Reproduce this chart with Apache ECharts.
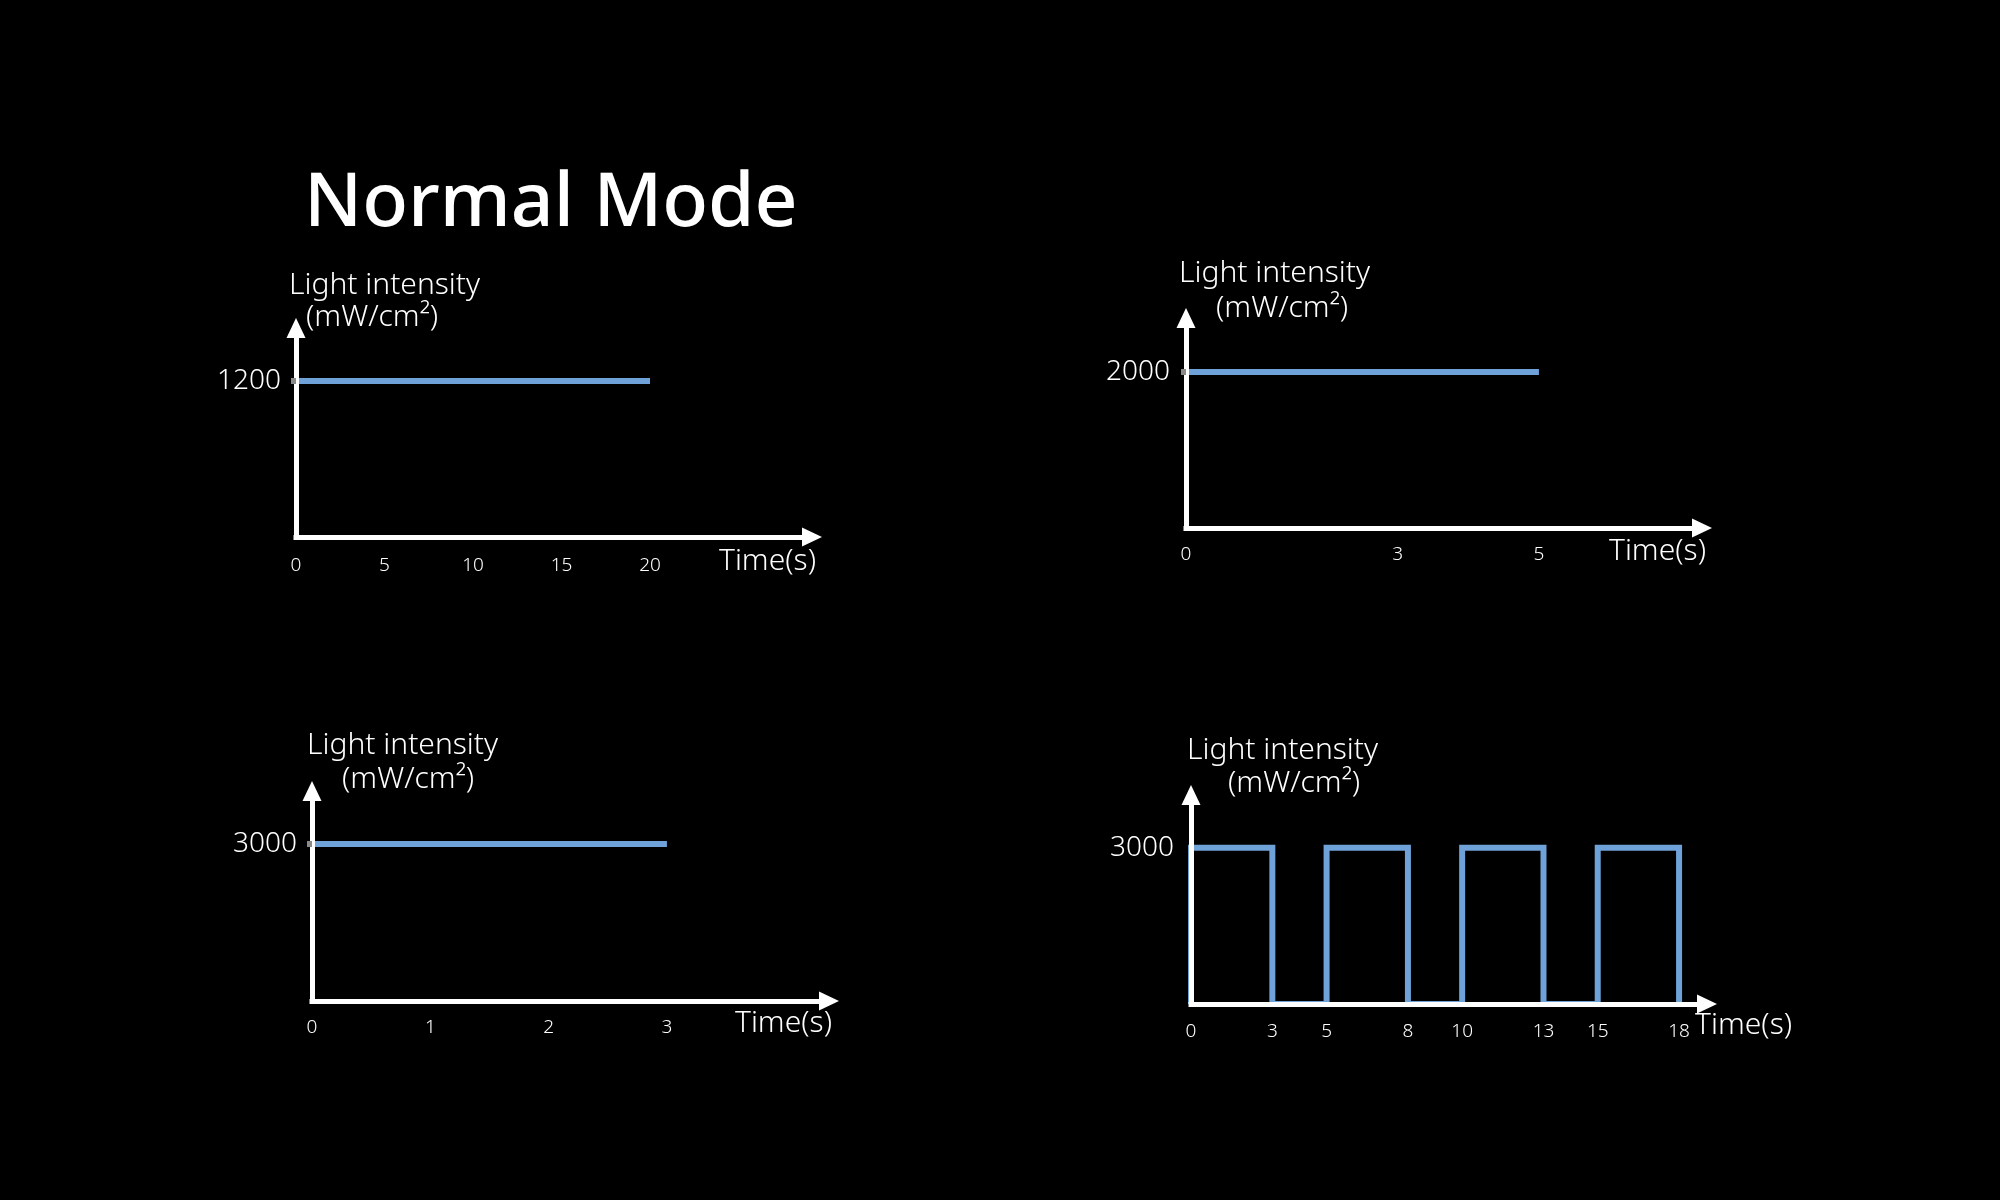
<!DOCTYPE html>
<html>
<head>
<meta charset="utf-8">
<title>Normal Mode</title>
<style>
  html, body { margin: 0; padding: 0; background: #000; }
  #chart { width: 2000px; height: 1200px; }
</style>
<script src="https://cdn.jsdelivr.net/npm/echarts@6.0.0/dist/echarts.min.js"></script>
</head>
<body>
<div id="chart"></div>
<script>
(function() {
  var titleText = 'Normal Mode';
  var yNameTop = 'Light intensity';
  var yNameBottom = '(mW/cm²)';
  var xName = 'Time(s)';

  // top left: constant 1200 for 20 s
  var time1 = [0, 20];
  var level1 = [1200, 1200];
  var xTicks1 = [0, 5, 10, 15, 20];
  var yTicks1 = [1200];

  // top right: constant 2000 for 5 s
  var time2 = [0, 5];
  var level2 = [2000, 2000];
  var xTicks2 = [0, 3, 5];
  var yTicks2 = [2000];

  // bottom left: constant 3000 for 3 s
  var time3 = [0, 3];
  var level3 = [3000, 3000];
  var xTicks3 = [0, 1, 2, 3];
  var yTicks3 = [3000];

  // bottom right: 3 s on / 2 s off pulses at 3000
  var time4 = [0, 0, 3, 3, 5, 5, 8, 8, 10, 10, 13, 13, 15, 15, 18, 18];
  var level4 = [0, 3000, 3000, 0, 0, 3000, 3000, 0, 0, 3000, 3000, 0, 0, 3000, 3000, 0];
  var xTicks4 = [0, 3, 5, 8, 10, 13, 15, 18];
  var yTicks4 = [3000];

  var white = '#ffffff';
  var blue = '#6fa2d8';
  var font = "'Noto Sans', 'DejaVu Sans', sans-serif";

  function pairs(xs, ys) {
    return xs.map(function(x, i) { return [x, ys[i]]; });
  }

  var panels = [
    {
      data: pairs(time1, level1), xTicks: xTicks1, yTicks: yTicks1,
      grid: { left: 296, top: 328, width: 516, height: 209 },
      xMax: 29.15, yMax: 1608, xMargin: 19, yMargin: 15, tick: true,
      nameGap: 4, nameAlign: 'right', namePad: 7,
      nameTop: [289, 268], nameBottom: [306, 300]
    },
    {
      data: pairs(time2, level2), xTicks: xTicks2, yTicks: yTicks2,
      grid: { left: 1186, top: 318, width: 516, height: 210 },
      xMax: 7.31, yMax: 2692, xMargin: 17, yMargin: 16, tick: true,
      nameGap: 4, nameAlign: 'right', namePad: 6,
      nameTop: [1179, 256], nameBottom: [1216, 291]
    },
    {
      data: pairs(time3, level3), xTicks: xTicks3, yTicks: yTicks3,
      grid: { left: 312, top: 791, width: 517, height: 210 },
      xMax: 4.37, yMax: 4013, xMargin: 17, yMargin: 15, tick: true,
      nameGap: 3, nameAlign: 'right', namePad: 5,
      nameTop: [307, 728], nameBottom: [342, 762]
    },
    {
      data: pairs(time4, level4), xTicks: xTicks4, yTicks: yTicks4,
      grid: { left: 1191, top: 795, width: 516, height: 209 },
      xMax: 19.03, yMax: 4011, xMargin: 18, yMargin: 17, tick: false,
      nameGap: -12, nameAlign: 'left', namePad: 4,
      nameTop: [1187, 733], nameBottom: [1228, 766]
    }
  ];

  var axisLine = {
    show: true,
    symbol: ['none', 'triangle'],
    symbolSize: [19, 20],
    lineStyle: { color: white, width: 5, cap: 'square' }
  };
  var nameStyle = { color: white, fontSize: 30, fontWeight: 300, fontFamily: font, lineHeight: 34 };

  var titles = [{
    text: titleText, left: 304, top: 167, padding: 0,
    textStyle: { color: white, fontSize: 75, fontWeight: 500, fontFamily: font, lineHeight: 75 }
  }];
  var grids = [], xAxes = [], yAxes = [], series = [];

  panels.forEach(function(p, i) {
    grids.push(p.grid);
    titles.push({ text: yNameTop, left: p.nameTop[0], top: p.nameTop[1], padding: 0, textStyle: nameStyle });
    titles.push({ text: yNameBottom, left: p.nameBottom[0], top: p.nameBottom[1], padding: 0, textStyle: nameStyle });
    xAxes.push({
      gridIndex: i, type: 'value', min: 0, max: p.xMax, z: 3,
      axisLine: axisLine,
      axisTick: { show: false },
      splitLine: { show: false },
      axisLabel: {
        customValues: p.xTicks, color: white, fontSize: 19, fontWeight: 300,
        fontFamily: font, margin: p.xMargin,
        formatter: function(v) { return String(v); }
      },
      name: xName, nameLocation: 'end', nameGap: p.nameGap, nameMoveOverlap: false,
      nameTextStyle: {
        color: white, fontSize: 30, fontWeight: 300, fontFamily: font, lineHeight: 34,
        align: p.nameAlign, verticalAlign: 'top', padding: [p.namePad, 0, 0, 0]
      }
    });
    yAxes.push({
      gridIndex: i, type: 'value', min: 0, max: p.yMax, z: 3,
      axisLine: axisLine,
      axisTick: {
        show: p.tick, customValues: p.yTicks, length: 5,
        lineStyle: { color: '#8a8a8a', width: 6 }
      },
      splitLine: { show: false },
      axisLabel: {
        customValues: p.yTicks, color: white, fontSize: 28, fontWeight: 300,
        fontFamily: font, margin: p.yMargin,
        formatter: function(v) { return String(v); }
      }
    });
    series.push({
      type: 'line', xAxisIndex: i, yAxisIndex: i, data: p.data,
      symbol: 'none', silent: true, z: 2,
      lineStyle: { color: blue, width: 6, cap: 'butt', join: 'miter' }
    });
  });

  var chart = echarts.init(document.getElementById('chart'), null, { renderer: 'canvas' });
  chart.setOption({
    backgroundColor: '#000000',
    animation: false,
    title: titles,
    grid: grids,
    xAxis: xAxes,
    yAxis: yAxes,
    series: series
  });
  window.addEventListener('resize', function() { chart.resize(); });
})();
</script>
</body>
</html>
